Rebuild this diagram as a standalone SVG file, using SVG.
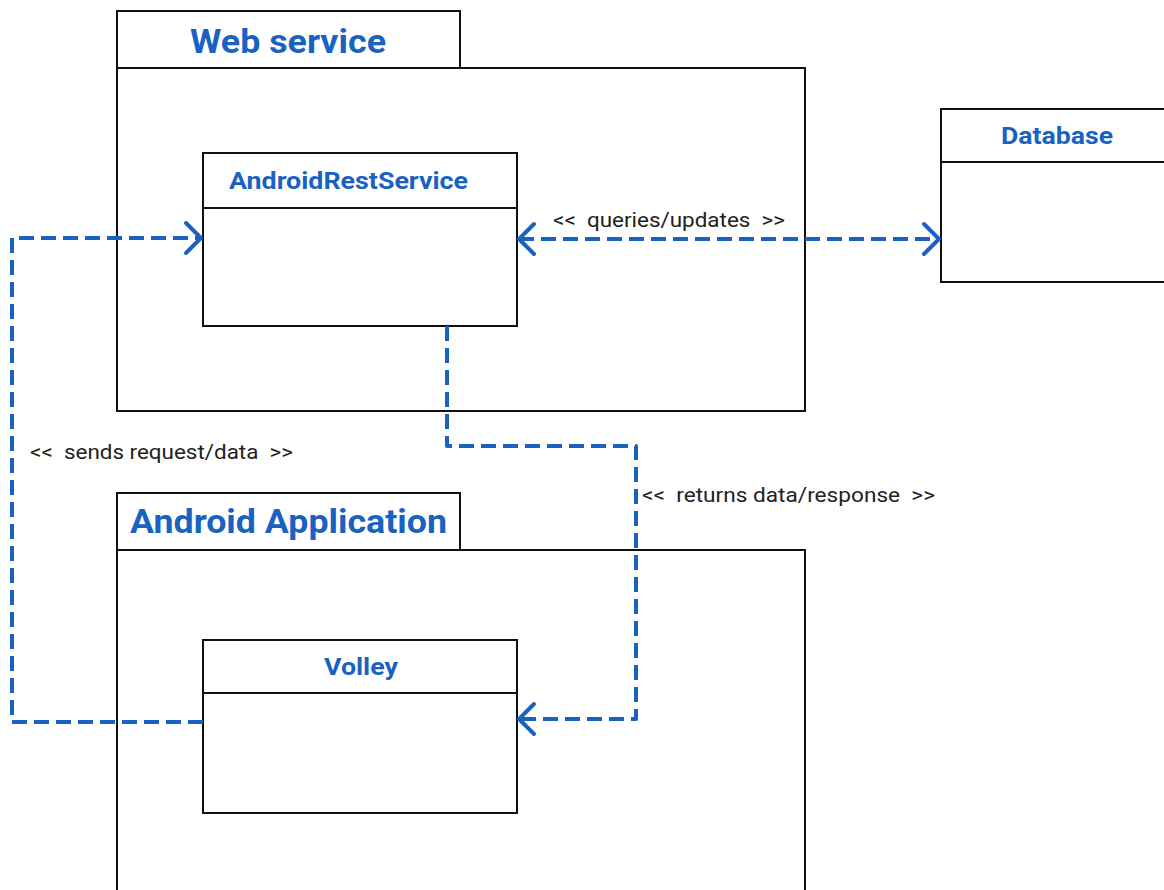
<svg xmlns="http://www.w3.org/2000/svg" width="1164" height="890" viewBox="0 0 1164 890">
<style>
.box{fill:#fff;stroke:#111;stroke-width:2}
.title{font-family:Roboto,"Liberation Sans",sans-serif;font-weight:bold;fill:#1a62c2}
.lbl{font-family:Roboto,"Liberation Sans",sans-serif;font-size:19.5px;fill:#222;white-space:pre}
.conn{fill:none;stroke:#1a62c2;stroke-width:4;stroke-dasharray:15 7;stroke-linejoin:round}
</style>
<defs>
<marker id="arr" markerUnits="userSpaceOnUse" markerWidth="24" markerHeight="36" viewBox="-20 -18 24 36" refX="0" refY="0" orient="auto-start-reverse">
<path d="M-15,-15 L0,0 L-15,15" fill="none" stroke="#1a62c2" stroke-width="4" stroke-linecap="round" stroke-linejoin="round"/>
</marker>
</defs>
<rect width="1164" height="890" fill="#fff"/>
<g id="web-service">
<rect class="box" x="117" y="68" width="688" height="343"/>
<rect class="box" x="117" y="11" width="343" height="57"/>
<text class="title" x="190" y="53" font-size="33" textLength="196" lengthAdjust="spacingAndGlyphs">Web service</text>
</g>
<g id="android-application">
<rect class="box" x="117" y="550" width="688" height="360"/>
<rect class="box" x="117" y="493" width="343" height="57"/>
<text class="title" x="130" y="533" font-size="33" textLength="317" lengthAdjust="spacingAndGlyphs">Android Application</text>
</g>
<g id="android-rest-service">
<rect class="box" x="203" y="153" width="314" height="173"/>
<line x1="203" y1="208" x2="517" y2="208" stroke="#111" stroke-width="2"/>
<text class="title" x="229" y="189" font-size="24" textLength="239" lengthAdjust="spacingAndGlyphs">AndroidRestService</text>
</g>
<g id="database">
<rect class="box" x="941" y="109" width="240" height="173"/>
<line x1="941" y1="162" x2="1181" y2="162" stroke="#111" stroke-width="2"/>
<text class="title" x="1001" y="144" font-size="24" textLength="112" lengthAdjust="spacingAndGlyphs">Database</text>
</g>
<g id="volley">
<rect class="box" x="203" y="640" width="314" height="173"/>
<line x1="203" y1="693" x2="517" y2="693" stroke="#111" stroke-width="2"/>
<text class="title" x="324" y="675" font-size="24" textLength="74" lengthAdjust="spacingAndGlyphs">Volley</text>
</g>
<g id="connectors">
<path class="conn" d="M203,722 H12 V238 H201" marker-end="url(#arr)"/>
<path class="conn" d="M519,239 H939" marker-start="url(#arr)" marker-end="url(#arr)"/>
<path class="conn" d="M447,326 V446 H636 V719 H519" marker-end="url(#arr)"/>
<text class="lbl" x="553" y="227" textLength="232" lengthAdjust="spacingAndGlyphs">&lt;&lt;  queries/updates  &gt;&gt;</text>
<text class="lbl" x="30" y="459" textLength="263" lengthAdjust="spacingAndGlyphs">&lt;&lt;  sends request/data  &gt;&gt;</text>
<text class="lbl" x="642" y="502" textLength="293" lengthAdjust="spacingAndGlyphs">&lt;&lt;  returns data/response  &gt;&gt;</text>
</g>
</svg>
